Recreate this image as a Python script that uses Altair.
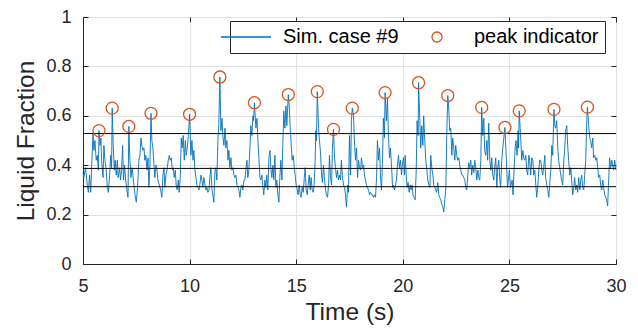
import altair as alt
import pandas as pd

# ---- data ----
time_s = [
    5.00, 5.04, 5.12, 5.20, 5.25, 5.31, 5.36, 5.40, 5.47, 5.51, 5.56, 5.62, 5.67, 5.72, 5.75, 5.80, 5.84, 5.87, 5.94, 5.98,
    6.03, 6.09, 6.14, 6.19, 6.25, 6.30, 6.34, 6.37, 6.42, 6.47, 6.51, 6.56, 6.61, 6.65, 6.72, 6.76, 6.81, 6.86, 6.90, 6.95,
    7.00, 7.06, 7.11, 7.15, 7.20, 7.25, 7.30, 7.34, 7.39, 7.44, 7.50, 7.56, 7.62, 7.67, 7.72, 7.76, 7.81, 7.86, 7.90, 7.95,
    8.00, 8.05, 8.09, 8.14, 8.19, 8.23, 8.28, 8.33, 8.37, 8.42, 8.47, 8.51, 8.58, 8.64, 8.70, 8.75, 8.80, 8.84, 8.89, 8.94,
    9.00, 9.05, 9.09, 9.14, 9.19, 9.23, 9.28, 9.33, 9.37, 9.42, 9.47, 9.51, 9.56, 9.61, 9.65, 9.70, 9.75, 9.80, 9.84, 9.89,
    9.94, 10.00, 10.06, 10.11, 10.16, 10.20, 10.25, 10.30, 10.34, 10.39, 10.44, 10.48, 10.53, 10.58, 10.62, 10.67, 10.72, 10.77, 10.81, 10.86,
    10.91, 10.95, 11.00, 11.05, 11.09, 11.14, 11.19, 11.23, 11.28, 11.33, 11.37, 11.42, 11.47, 11.52, 11.56, 11.61, 11.66, 11.70, 11.75, 11.80,
    11.84, 11.89, 11.94, 11.98, 12.03, 12.08, 12.12, 12.17, 12.22, 12.27, 12.31, 12.36, 12.41, 12.45, 12.50, 12.55, 12.59, 12.64, 12.69, 12.73,
    12.78, 12.83, 12.87, 12.92, 12.97, 13.00, 13.04, 13.11, 13.16, 13.20, 13.25, 13.30, 13.34, 13.39, 13.44, 13.48, 13.53, 13.58, 13.62, 13.67,
    13.72, 13.77, 13.81, 13.86, 13.91, 13.95, 14.00, 14.05, 14.09, 14.14, 14.19, 14.23, 14.28, 14.33, 14.37, 14.42, 14.47, 14.52, 14.56, 14.63,
    14.67, 14.72, 14.77, 14.81, 14.86, 14.91, 14.95, 15.00, 15.05, 15.09, 15.14, 15.19, 15.23, 15.28, 15.33, 15.38, 15.42, 15.47, 15.52, 15.56,
    15.61, 15.66, 15.70, 15.75, 15.80, 15.84, 15.89, 15.92, 15.95, 15.99, 16.05, 16.09, 16.14, 16.19, 16.23, 16.28, 16.33, 16.38, 16.42, 16.47,
    16.52, 16.56, 16.61, 16.66, 16.70, 16.75, 16.80, 16.84, 16.89, 16.94, 16.98, 17.03, 17.08, 17.12, 17.17, 17.22, 17.27, 17.31, 17.36, 17.41,
    17.45, 17.50, 17.55, 17.59, 17.63, 17.69, 17.73, 17.78, 17.83, 17.88, 17.92, 17.97, 18.02, 18.06, 18.11, 18.16, 18.20, 18.25, 18.30, 18.34,
    18.39, 18.44, 18.48, 18.53, 18.58, 18.62, 18.67, 18.72, 18.77, 18.81, 18.86, 18.91, 18.95, 19.00, 19.05, 19.09, 19.14, 19.17, 19.23, 19.28,
    19.33, 19.38, 19.42, 19.47, 19.52, 19.56, 19.61, 19.66, 19.70, 19.75, 19.80, 19.84, 19.89, 19.94, 19.98, 20.03, 20.08, 20.11, 20.16, 20.20,
    20.25, 20.30, 20.34, 20.39, 20.44, 20.48, 20.53, 20.58, 20.63, 20.67, 20.72, 20.74, 20.80, 20.84, 20.89, 20.94, 20.98, 21.03, 21.08, 21.13,
    21.17, 21.22, 21.27, 21.31, 21.36, 21.41, 21.45, 21.50, 21.55, 21.59, 21.64, 21.69, 21.73, 21.78, 21.83, 21.88, 21.92, 21.97, 22.02, 22.06,
    22.11, 22.16, 22.20, 22.25, 22.30, 22.34, 22.39, 22.44, 22.48, 22.53, 22.58, 22.63, 22.67, 22.72, 22.77, 22.81, 22.86, 22.91, 22.95, 23.00,
    23.05, 23.09, 23.14, 23.19, 23.23, 23.28, 23.33, 23.38, 23.42, 23.47, 23.52, 23.56, 23.61, 23.66, 23.70, 23.75, 23.80, 23.84, 23.89, 23.94,
    23.98, 24.03, 24.08, 24.13, 24.17, 24.22, 24.27, 24.31, 24.36, 24.41, 24.45, 24.50, 24.55, 24.59, 24.64, 24.69, 24.74, 24.79, 24.86, 24.91,
    24.95, 25.00, 25.05, 25.13, 25.17, 25.22, 25.27, 25.31, 25.36, 25.41, 25.43, 25.46, 25.53, 25.58, 25.63, 25.67, 25.72, 25.77, 25.81, 25.86,
    25.91, 25.95, 26.00, 26.05, 26.10, 26.14, 26.19, 26.24, 26.28, 26.33, 26.38, 26.42, 26.47, 26.52, 26.56, 26.61, 26.66, 26.70, 26.75, 26.80,
    26.85, 26.89, 26.94, 26.99, 27.03, 27.09, 27.13, 27.17, 27.22, 27.27, 27.31, 27.36, 27.41, 27.45, 27.50, 27.55, 27.59, 27.64, 27.69, 27.74,
    27.78, 27.83, 27.88, 27.92, 27.97, 28.02, 28.06, 28.11, 28.16, 28.20, 28.25, 28.30, 28.35, 28.39, 28.44, 28.49, 28.53, 28.58, 28.63, 28.66,
    28.72, 28.77, 28.81, 28.86, 28.91, 28.95, 29.00, 29.05, 29.10, 29.14, 29.19, 29.24, 29.28, 29.33, 29.38, 29.42, 29.47, 29.52, 29.56, 29.61,
    29.66, 29.70, 29.75, 29.80, 29.85, 29.89, 29.94, 30.00,
]

liquid_fraction = [
    0.37, 0.35, 0.39, 0.32, 0.29, 0.36, 0.29, 0.38, 0.53, 0.46, 0.50, 0.42, 0.44, 0.38, 0.54, 0.48, 0.51, 0.42, 0.35, 0.48,
    0.42, 0.38, 0.31, 0.29, 0.36, 0.44, 0.39, 0.631, 0.47, 0.38, 0.42, 0.36, 0.42, 0.35, 0.39, 0.34, 0.38, 0.48, 0.34, 0.40,
    0.34, 0.30, 0.27, 0.557, 0.42, 0.35, 0.39, 0.36, 0.32, 0.28, 0.25, 0.31, 0.42, 0.44, 0.51, 0.48, 0.46, 0.47, 0.42, 0.44,
    0.38, 0.43, 0.31, 0.40, 0.61, 0.50, 0.47, 0.40, 0.35, 0.40, 0.38, 0.34, 0.32, 0.30, 0.27, 0.36, 0.39, 0.31, 0.36, 0.38,
    0.42, 0.44, 0.42, 0.43, 0.38, 0.39, 0.35, 0.38, 0.32, 0.30, 0.34, 0.29, 0.35, 0.51, 0.47, 0.52, 0.42, 0.50, 0.44, 0.47,
    0.52, 0.606, 0.44, 0.50, 0.42, 0.46, 0.38, 0.35, 0.32, 0.31, 0.30, 0.32, 0.36, 0.34, 0.31, 0.35, 0.32, 0.30, 0.31, 0.29,
    0.30, 0.35, 0.39, 0.30, 0.28, 0.25, 0.38, 0.39, 0.34, 0.51, 0.56, 0.757, 0.54, 0.59, 0.52, 0.48, 0.55, 0.47, 0.50, 0.42,
    0.46, 0.39, 0.43, 0.38, 0.39, 0.36, 0.35, 0.36, 0.32, 0.31, 0.30, 0.27, 0.31, 0.32, 0.30, 0.34, 0.34, 0.38, 0.42, 0.35,
    0.38, 0.47, 0.56, 0.52, 0.60, 0.58, 0.653, 0.55, 0.59, 0.51, 0.43, 0.35, 0.34, 0.36, 0.31, 0.28, 0.34, 0.31, 0.36, 0.30,
    0.43, 0.46, 0.39, 0.35, 0.40, 0.34, 0.44, 0.31, 0.34, 0.28, 0.25, 0.35, 0.42, 0.34, 0.48, 0.62, 0.55, 0.64, 0.56, 0.686,
    0.645, 0.55, 0.48, 0.42, 0.44, 0.39, 0.36, 0.32, 0.30, 0.28, 0.32, 0.28, 0.27, 0.31, 0.29, 0.35, 0.39, 0.30, 0.28, 0.32,
    0.36, 0.30, 0.35, 0.30, 0.29, 0.32, 0.42, 0.54, 0.50, 0.698, 0.55, 0.50, 0.45, 0.36, 0.33, 0.40, 0.34, 0.30, 0.28, 0.27,
    0.32, 0.44, 0.35, 0.32, 0.47, 0.545, 0.43, 0.39, 0.35, 0.38, 0.34, 0.36, 0.34, 0.42, 0.35, 0.32, 0.31, 0.28, 0.23, 0.32,
    0.29, 0.52, 0.36, 0.58, 0.631, 0.60, 0.50, 0.42, 0.47, 0.35, 0.42, 0.39, 0.38, 0.43, 0.39, 0.40, 0.36, 0.34, 0.32, 0.31,
    0.30, 0.28, 0.29, 0.28, 0.28, 0.27, 0.28, 0.27, 0.35, 0.50, 0.42, 0.47, 0.36, 0.30, 0.42, 0.59, 0.51, 0.694, 0.58, 0.67,
    0.51, 0.43, 0.47, 0.40, 0.31, 0.32, 0.30, 0.32, 0.34, 0.40, 0.44, 0.39, 0.42, 0.36, 0.40, 0.43, 0.36, 0.44, 0.36, 0.31,
    0.33, 0.29, 0.32, 0.30, 0.32, 0.28, 0.27, 0.26, 0.38, 0.58, 0.52, 0.734, 0.58, 0.47, 0.56, 0.48, 0.60, 0.50, 0.42, 0.38,
    0.34, 0.32, 0.31, 0.44, 0.39, 0.36, 0.32, 0.31, 0.30, 0.29, 0.33, 0.28, 0.27, 0.26, 0.24, 0.23, 0.21, 0.26, 0.31, 0.52,
    0.682, 0.62, 0.54, 0.55, 0.44, 0.51, 0.47, 0.42, 0.48, 0.44, 0.42, 0.43, 0.40, 0.38, 0.36, 0.36, 0.35, 0.34, 0.31, 0.30,
    0.36, 0.41, 0.39, 0.42, 0.36, 0.40, 0.37, 0.42, 0.39, 0.34, 0.38, 0.35, 0.34, 0.42, 0.634, 0.52, 0.59, 0.46, 0.44, 0.50,
    0.42, 0.57, 0.42, 0.38, 0.43, 0.36, 0.34, 0.39, 0.43, 0.31, 0.39, 0.42, 0.34, 0.31, 0.42, 0.47, 0.51, 0.553, 0.42, 0.31,
    0.34, 0.38, 0.31, 0.34, 0.28, 0.38, 0.47, 0.50, 0.44, 0.54, 0.47, 0.620, 0.51, 0.42, 0.46, 0.43, 0.42, 0.44, 0.38, 0.36,
    0.44, 0.42, 0.36, 0.43, 0.42, 0.36, 0.38, 0.32, 0.27, 0.31, 0.38, 0.42, 0.42, 0.38, 0.36, 0.39, 0.44, 0.35, 0.32, 0.30,
    0.27, 0.32, 0.38, 0.48, 0.44, 0.626, 0.56, 0.55, 0.58, 0.47, 0.42, 0.39, 0.36, 0.34, 0.32, 0.42, 0.46, 0.54, 0.56, 0.47,
    0.42, 0.36, 0.39, 0.34, 0.28, 0.31, 0.35, 0.30, 0.32, 0.29, 0.35, 0.30, 0.34, 0.36, 0.31, 0.30, 0.36, 0.42, 0.58, 0.635,
    0.56, 0.51, 0.50, 0.47, 0.51, 0.43, 0.44, 0.42, 0.43, 0.39, 0.35, 0.36, 0.32, 0.30, 0.34, 0.31, 0.28, 0.27, 0.26, 0.235,
    0.35, 0.43, 0.39, 0.42, 0.40, 0.38, 0.42, 0.38,
]

peak_time = [5.75, 6.37, 7.15, 8.19, 10.00, 11.42, 13.04, 14.63, 15.99, 16.75,
             17.63, 19.17, 20.74, 22.11, 23.70, 24.79, 25.46, 27.09, 28.66]
peak_value = [0.540, 0.631, 0.557, 0.610, 0.606, 0.757, 0.653, 0.686, 0.698, 0.545,
              0.631, 0.694, 0.734, 0.682, 0.634, 0.553, 0.620, 0.626, 0.635]

threshold_levels = [0.528, 0.387, 0.313]

series_names = ["Sim. case #9", "peak indicator"]
x_ticks = [5, 10, 15, 20, 25, 30]
y_ticks = [0, 0.2, 0.4, 0.6, 0.8, 1]

BLUE = "#0072BD"
ORANGE = "#D95319"
AX = "#262626"
FONT = "Liberation Sans"

signal_df = pd.DataFrame({"t": time_s, "lf": liquid_fraction})
peak_df = pd.DataFrame({"t": peak_time, "lf": peak_value,
                        "series": ["peak indicator"] * len(peak_time)})
level_df = pd.DataFrame({"level": threshold_levels})

x_scale = alt.Scale(domain=[5, 30], nice=False, zero=False)
y_scale = alt.Scale(domain=[0, 1], nice=False)

# labelled axes (bottom / left)
x_axis = alt.Axis(values=x_ticks, title="Time (s)", grid=True, tickSize=0,
                  labelPadding=13, titlePadding=5, format="~g", labelFlush=False)
y_axis = alt.Axis(values=y_ticks, title="Liquid Fraction", grid=True, tickSize=0,
                  labelPadding=12, titlePadding=7, format="~g", labelFlush=False)


def inner_ticks(orient, values):
    # tick-only axis pulled 5px into the plot so its outward ticks point inward
    return alt.Axis(orient=orient, values=values, labels=False, title=None,
                    domain=False, grid=False, ticks=True, tickSize=5,
                    tickColor=AX, tickWidth=1, offset=-5)


line = alt.Chart(signal_df).mark_line(color=BLUE, strokeWidth=0.9).encode(
    x=alt.X("t:Q", scale=x_scale, axis=x_axis),
    y=alt.Y("lf:Q", scale=y_scale, axis=y_axis),
)

levels = alt.Chart(level_df).mark_rule(color="black", strokeWidth=1).encode(
    y=alt.Y("level:Q", scale=y_scale, axis=inner_ticks("left", y_ticks))
)

tick_holder = alt.Chart(peak_df).mark_point(opacity=0).encode(
    x=alt.X("t:Q", scale=x_scale, axis=inner_ticks("bottom", x_ticks)),
    y=alt.Y("lf:Q", scale=y_scale, axis=inner_ticks("right", y_ticks)),
)

legend = alt.Legend(title=None, orient="none", legendX=147, legendY=4,
                    direction="horizontal", fillColor="white", strokeColor=AX,
                    padding=6, columnPadding=28, labelOffset=27,
                    labelFontSize=20, labelFont=FONT, labelColor="black",
                    symbolStrokeWidth=1.3, labelLimit=400)

peaks = alt.Chart(peak_df).mark_point(filled=False, strokeWidth=1.3, opacity=1, size=144).encode(
    x=alt.X("t:Q", scale=x_scale, axis=inner_ticks("top", x_ticks)),
    y=alt.Y("lf:Q", scale=y_scale, axis=None),
    color=alt.Color("series:N", scale=alt.Scale(domain=series_names, range=[BLUE, ORANGE]), legend=legend),
    shape=alt.Shape("series:N", scale=alt.Scale(domain=series_names, range=["M-5,0H5", "circle"]), legend=legend),
)

chart = alt.layer(line, levels, tick_holder, peaks).resolve_axis(
    x="independent", y="independent"
).properties(
    width=533, height=247,
    autosize=alt.AutoSizeParams(type="none"),
    padding={"left": 75, "top": 9, "right": 13, "bottom": 61},
).configure_axis(
    labelFont=FONT, titleFont=FONT, labelFontSize=18, titleFontSize=24.5,
    labelColor=AX, titleColor=AX, titleFontWeight="normal",
    gridColor="#e3e3e3", gridWidth=1, domainColor=AX, domainWidth=1,
).configure_view(
    stroke=AX, strokeWidth=1,
)

chart.save("out.html", embed_options={"renderer": "svg", "actions": False})
